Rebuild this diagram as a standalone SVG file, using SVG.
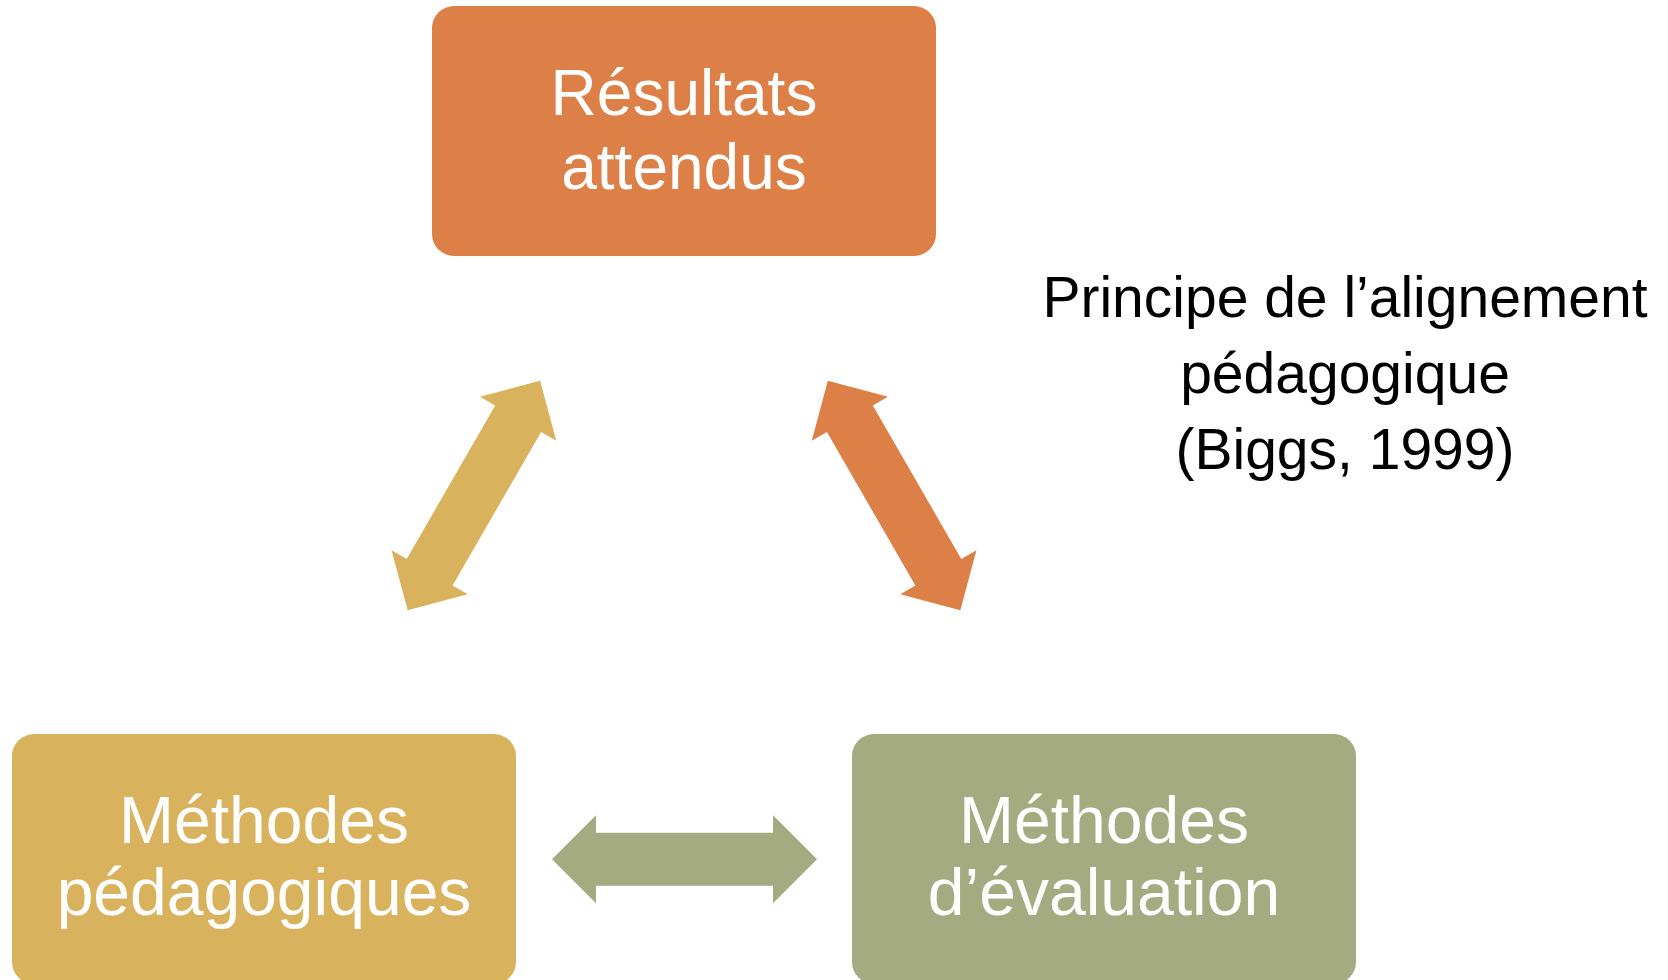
<svg xmlns="http://www.w3.org/2000/svg" width="1668" height="980" viewBox="0 0 1668 980">
  <defs>
    <style>
      .box-text { font-family: "Liberation Sans", Arial, sans-serif; font-size: 66px; fill: #FFFFFF; text-anchor: middle; }
      .box-text.top { font-size: 64px; }
      .caption { font-family: "Liberation Sans", Arial, sans-serif; font-size: 57px; fill: #000000; text-anchor: middle; }
      .orange { fill: #DD8047; }
      .gold { fill: #D9B25E; }
      .olive { fill: #A5AB81; }
    </style>
    <path id="dblArrow" d="M -132.5 0 L -88.5 -44 L -88.5 -26.5 L 88.5 -26.5 L 88.5 -44 L 132.5 0 L 88.5 44 L 88.5 26.5 L -88.5 26.5 L -88.5 44 Z"/>
  </defs>
  <rect width="1668" height="980" fill="#FFFFFF"/>

  <g id="connectors">
    <use href="#dblArrow" class="gold" transform="translate(473.9 495.5) rotate(-60)"/>
    <use href="#dblArrow" class="orange" transform="translate(894.1 495.5) rotate(60)"/>
    <use href="#dblArrow" class="olive" transform="translate(684.5 859.3)"/>
  </g>

  <g id="node-resultats">
    <rect class="orange" x="432" y="6" width="504" height="250" rx="22" ry="22"/>
    <text class="box-text top" x="684" y="114.5">Résultats</text>
    <text class="box-text top" x="684" y="188.5">attendus</text>
  </g>

  <g id="node-methodes-pedagogiques">
    <rect class="gold" x="12" y="734" width="504" height="250" rx="22" ry="22"/>
    <text class="box-text" x="264" y="842.5">Méthodes</text>
    <text class="box-text" x="264" y="915">pédagogiques</text>
  </g>

  <g id="node-methodes-evaluation">
    <rect class="olive" x="852" y="734" width="504" height="250" rx="22" ry="22"/>
    <text class="box-text" x="1104" y="842.5">Méthodes</text>
    <text class="box-text" x="1104" y="915">d’évaluation</text>
  </g>

  <g id="caption">
    <text class="caption" x="1345" y="317">Principe de l’alignement</text>
    <text class="caption" x="1345" y="393">pédagogique</text>
    <text class="caption" x="1345" y="469">(Biggs, 1999)</text>
  </g>
</svg>
